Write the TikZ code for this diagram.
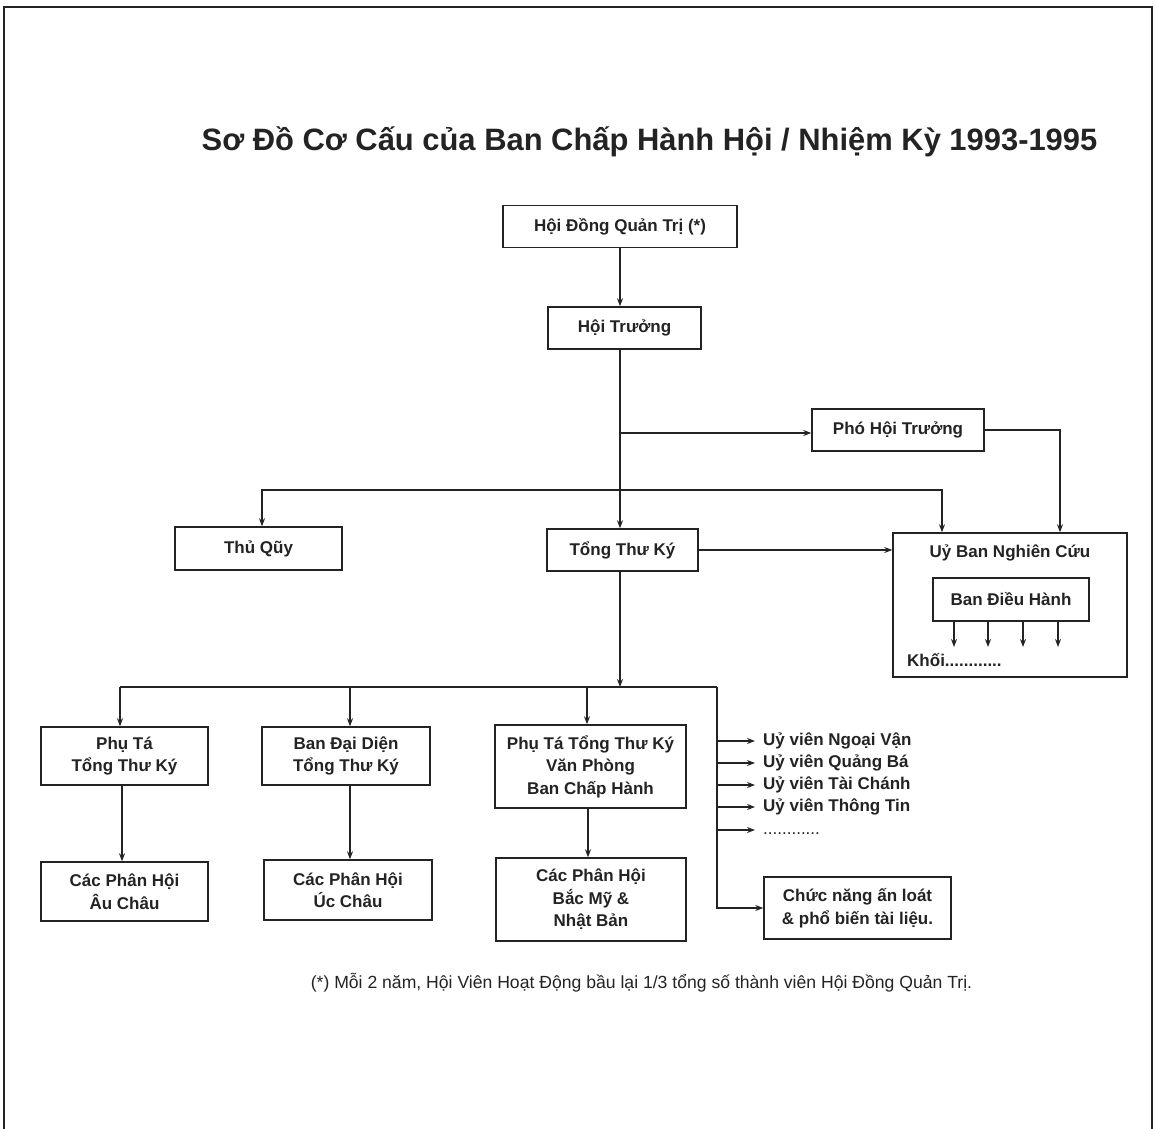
\documentclass[tikz,border=0pt]{standalone}
\usepackage{fontspec}
\setmainfont{Liberation Sans}
\usetikzlibrary{arrows.meta}
\definecolor{ink}{RGB}{35,35,35}
\begin{document}
\begin{tikzpicture}[x=1pt,y=-1pt,
  box/.style={draw=ink,line width=1.5pt,inner sep=0pt,text=ink,align=center,
    font=\bfseries\fontsize{17}{22.5}\selectfont},
  txt/.style={text=ink,inner sep=0pt,font=\bfseries\fontsize{17}{22.5}\selectfont},
  ln/.style={draw=ink,line width=1.5pt},
  arr/.style={draw=ink,line width=1.5pt,-{Stealth[length=8pt,width=6pt]}},
  arrb/.style={draw=ink,line width=1.5pt,{Stealth[length=8pt,width=6pt]}-{Stealth[length=8pt,width=6pt]}}]
\useasboundingbox (0,0) rectangle (1156,1129);
\draw[ink,line width=1.8pt] (4,1129) -- (4,7) -- (1152,7) -- (1152,1129);

\node[text=ink,inner sep=0pt,anchor=base,font=\bfseries\fontsize{30.9}{36}\selectfont] (title) at (649.5,150)
  {Sơ Đồ Cơ Cấu của Ban Chấp Hành Hội / Nhiệm Kỳ 1993-1995};

\node[box,minimum width=234pt,minimum height=42pt] (hdqt) at (620,226.5) {Hội Đồng Quản Trị (*)};
\node[box,minimum width=153pt,minimum height=42pt] (ht) at (624.5,328) {Hội Trưởng};
\node[box,minimum width=172pt,minimum height=42pt] (pht) at (898,430) {Phó Hội Trưởng};
\node[box,minimum width=167pt,minimum height=43pt] (tq) at (258.5,548.5) {Thủ Qũy};
\node[box,minimum width=151pt,minimum height=42pt] (ttk) at (622.5,550) {Tổng Thư Ký};
\node[box,minimum width=234pt,minimum height=144pt] (ubnc) at (1010,605) {};
\node[txt] (ubnct) at (1010,553) {Uỷ Ban Nghiên Cứu};
\node[box,minimum width=156pt,minimum height=43pt] (bdh) at (1011,599.5) {Ban Điều Hành};
\node[txt,anchor=west] (khoi) at (907,660) {Khối............};

\node[box,minimum width=167pt,minimum height=58pt] (pt) at (124.5,756) {Phụ Tá\\Tổng Thư Ký};
\node[box,minimum width=168pt,minimum height=58pt] (bdd) at (346,756) {Ban Đại Diện\\Tổng Thư Ký};
\node[box,minimum width=191pt,minimum height=83pt] (ptvp) at (590.5,766.5) {Phụ Tá Tổng Thư Ký\\Văn Phòng\\Ban Chấp Hành};
\node[box,minimum width=167pt,minimum height=59pt] (au) at (124.5,891.5) {Các Phân Hội\\Âu Châu};
\node[box,minimum width=168pt,minimum height=60pt] (uc) at (348,890) {Các Phân Hội\\Úc Châu};
\node[box,minimum width=190pt,minimum height=83pt] (bm) at (591,899.5) {Các Phân Hội\\Bắc Mỹ \&\\Nhật Bản};
\node[box,minimum width=187pt,minimum height=62pt] (cn) at (857.5,908) {Chức năng ấn loát\\\& phổ biến tài liệu.};

\node[txt,anchor=west] (uv1) at (763,741) {Uỷ viên Ngoại Vận};
\node[txt,anchor=west] (uv2) at (763,763) {Uỷ viên Quảng Bá};
\node[txt,anchor=west] (uv3) at (763,785) {Uỷ viên Tài Chánh};
\node[txt,anchor=west] (uv4) at (763,807) {Uỷ viên Thông Tin};
\node[txt,anchor=base west,font=\fontsize{17}{22.5}\selectfont] (uv5) at (763,834) {............};

\node[text=ink,inner sep=0pt,font=\fontsize{17.6}{20}\selectfont] (note) at (641.5,983)
  {(*) Mỗi 2 năm, Hội Viên Hoạt Động bầu lại 1/3 tổng số thành viên Hội Đồng Quản Trị.};

% connectors
\coordinate (vx) at (620,0);
\draw[arr] (hdqt.south) -- (hdqt.south |- ht.north);
\draw[arr] (ht.south -| vx) -- (ttk.north -| vx);
\coordinate (j1) at (620,433);
\draw[arr] (j1) -- (j1 -| pht.west);
\coordinate (c2) at (1060,430);
\draw[arr] (pht.east) -| (c2 |- ubnc.north);
\coordinate (qL) at (262,490);
\coordinate (qR) at (942,490);
\draw[arrb] (qL |- tq.north) -- (qL) -- (qR) -- (qR |- ubnc.north);
\draw[arr] (ttk.east) -- (ttk.east -| ubnc.west);

\foreach \xx in {954,988,1023,1058}{
  \coordinate (k) at (\xx,647);
  \draw[arr] (k |- bdh.south) -- (k);
}

\coordinate (bus) at (620,687);
\draw[arr] (ttk.south -| bus) -- (bus);
\coordinate (bL) at (120,687);
\coordinate (bR) at (717,687);
\draw[ln] (bL) -- (bR);
\draw[arr] (bR) |- (cn.west);
\draw[arr] (bL) -- (bL |- pt.north);
\coordinate (b2) at (350,687);
\draw[arr] (b2) -- (b2 |- bdd.north);
\coordinate (b3) at (587,687);
\draw[arr] (b3) -- (b3 |- ptvp.north);

\coordinate (d1) at (122,0);
\draw[arr] (pt.south -| d1) -- (au.north -| d1);
\coordinate (d2) at (350,0);
\draw[arr] (bdd.south -| d2) -- (uc.north -| d2);
\coordinate (d3) at (588,0);
\draw[arr] (ptvp.south -| d3) -- (bm.north -| d3);

\foreach \yy/\nn in {741/uv1,763/uv2,785/uv3,807/uv4,830/uv5}{
  \coordinate (s) at (717,\yy);
  \draw[arr] (s) -- (755,\yy);
}
\end{tikzpicture}
\end{document}
